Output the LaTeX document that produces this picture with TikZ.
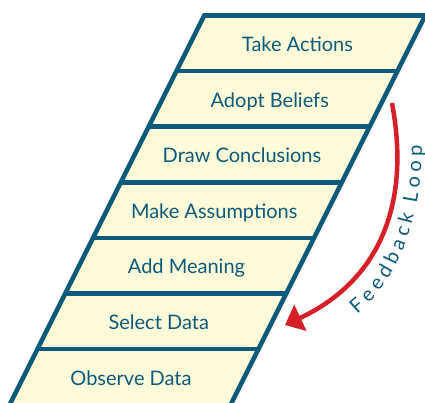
\documentclass[tikz,border=0pt]{standalone}
\usepackage{fontspec}
\setmainfont{Lato}
\usepackage{tikz}
\usetikzlibrary{arrows.meta}
\usetikzlibrary{decorations.text}

\definecolor{ladderblue}{HTML}{0E5A7B}
\definecolor{laddercream}{HTML}{FDFBD9}
\definecolor{loopred}{HTML}{D61F27}

\begin{document}
\begin{tikzpicture}[x=1pt, y=-1pt,
        rung/.style={draw=ladderblue, line width=4.6pt},
        stage/.style={anchor=base, text=ladderblue, font=\fontsize{20}{24}\selectfont},
        loop/.style={draw=loopred, line width=4.5pt, -{Triangle[length=17pt, width=28pt]}}]
        \useasboundingbox (0,0) rectangle (425,402);
        \clip (0,0) rectangle (425,402);

        % Ladder
        \fill[laddercream] (204.25,15.5) -- (425.25,15.5) -- (230.5,405) -- (9.5,405) -- cycle;
        \draw[rung] (176.45,71.1) -- (397.45,71.1);
        \draw[rung] (148.65,126.7) -- (369.65,126.7);
        \draw[rung] (120.85,182.3) -- (341.85,182.3);
        \draw[rung] (93.05,237.9) -- (314.05,237.9);
        \draw[rung] (65.25,293.5) -- (286.25,293.5);
        \draw[rung] (37.45,349.1) -- (258.45,349.1);
        \draw[rung, line join=miter] (9.5,405) -- (204.25,15.5) -- (425.25,15.5) -- (230.5,405);

        % Nodes
        \node[stage] (actions) at (297.5,51.5) {Take Actions};
        \node[stage] (beliefs) at (269.75,107.1) {Adopt Beliefs};
        \node[stage] (conclusions) at (242,162.7) {Draw Conclusions};
        \node[stage] (assumptions) at (214.25,218.3) {Make Assumptions};
        \node[stage] (meaning) at (186.5,273.9) {Add Meaning};
        \node[stage] (select) at (158.75,329.5) {Select Data};
        \node[stage] (observe) at (131,385.1) {Observe Data};

        % Feedback loop
        \coordinate (loop start) at (392,103);
        \coordinate (loop end) at (285,325);
        \draw[loop] (loop start) .. controls (412,210) and (375,283) .. (loop end);
        \path[decorate, decoration={text effects along path, text={Feedback Loop},
            text effects/.cd, text along path, fit text to path,
            characters={text=ladderblue, font=\fontsize{20}{20}\selectfont}}]
            (357,314) .. controls (402,278) and (422,210) .. (422,145);
    \end{tikzpicture}
\end{document}
